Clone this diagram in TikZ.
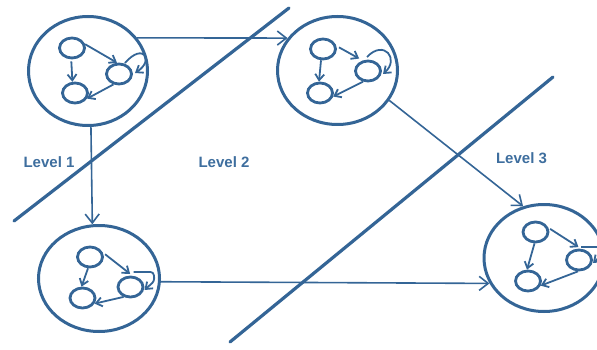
\documentclass[tikz,border=0pt]{standalone}
\usepackage{fontspec}
\setmainfont{Liberation Sans}
\usetikzlibrary{shapes.geometric,arrows.meta,calc}
\definecolor{ink}{RGB}{52,101,150}
\definecolor{labelink}{RGB}{62,110,158}
\begin{document}
\begin{tikzpicture}[x=1pt,y=-1pt,
  bigc/.style={ellipse,draw=ink,line width=3pt,minimum width=120pt,minimum height=108pt,inner sep=0pt},
  smallc/.style={ellipse,draw=ink,line width=2.8pt,minimum width=25pt,minimum height=20pt,inner sep=0pt},
  bigarrow/.style={draw=ink,line width=1.6pt,-{Straight Barb[length=9pt,width=14pt]}},
  smallarrow/.style={draw=ink,line width=1.8pt,-{Straight Barb[length=6pt,width=9pt]}},
  divider/.style={draw=ink,line width=3.2pt,line cap=round},
  level/.style={text=labelink,font=\fontsize{15}{18}\selectfont\bfseries}]
\useasboundingbox (0,0) rectangle (597,350);
\clip (0,0) rectangle (597,350);

% Level 1, upper cluster
\node[bigc,minimum width=119pt,minimum height=109pt] (g1) at (88,71) {};
\node[smallc] (g1a) at (72,48) {};
\node[smallc] (g1b) at (75,93) {};
\node[smallc] (g1c) at (119,74) {};
\draw[smallarrow] (g1a.16) -- (g1c.100);
\draw[smallarrow,shorten <=2pt] (g1a.-94) -- (g1b.103);
\draw[smallarrow] (g1c.-118) -- (g1b.-25);
\draw[smallarrow] ($(g1c)+(6,-11)$) .. controls ($(g1c)+(24,-32)$) and ($(g1c)+(36,-14)$) .. ($(g1c)+(16,-1)$);

% Level 2, upper cluster
\node[bigc] (g2) at (337.5,70.5) {};
\node[smallc] (g2a) at (323,49) {};
\node[smallc] (g2b) at (320,93) {};
\node[smallc] (g2c) at (368,71) {};
\draw[smallarrow,shorten <=3pt,shorten >=4pt] (g2a.13) -- (g2c.117);
\draw[smallarrow] (g2a.-100) -- (g2b.95);
\draw[smallarrow] (g2c.-115) -- (g2b.-15);
\draw[smallarrow] ($(g2c)+(-1,-14)$) .. controls ($(g2c)+(16,-32)$) and ($(g2c)+(32,-12)$) .. ($(g2c)+(15,3)$);

% Level 1/2, lower cluster
\node[bigc,minimum width=121pt,minimum height=106pt] (g3) at (99,278.5) {};
\node[smallc] (g3a) at (90,257) {};
\node[smallc] (g3b) at (82.5,298) {};
\node[smallc] (g3c) at (130.5,287) {};
\draw[smallarrow,shorten <=3pt,shorten >=3pt] (g3a.20) -- (g3c.80);
\draw[smallarrow] (g3a.-100) -- (g3b.95);
\draw[smallarrow] (g3c.-125) -- (g3b.-25);
\draw[smallarrow,rounded corners=3pt] ($(g3c)+(3,-15)$) -- ($(g3c)+(23,-15)$) -- ($(g3c)+(24,-6)$) -- ($(g3c)+(14,3)$);

% Level 3 cluster
\node[bigc,minimum height=107pt] (g4) at (544,258) {};
\node[smallc] (g4a) at (535.5,232) {};
\node[smallc] (g4b) at (528,281) {};
\node[smallc] (g4c) at (579,260) {};
\draw[smallarrow,shorten <=2pt,shorten >=3pt] (g4a.18) -- (g4c.80);
\draw[smallarrow] (g4a.-95) -- (g4b.95);
\draw[smallarrow] (g4c.-95) -- (g4b.-20);
\draw[smallarrow,rounded corners=3pt] ($(g4c)+(2,-13)$) -- ($(g4c)+(22,-13)$) -- ($(g4c)+(24,-6)$) -- ($(g4c)+(14,3)$);

% transitions between clusters
\draw[bigarrow] (g1.34) -- (g2.147);
\draw[bigarrow] (g1.-87) -- (g3.97);
\draw[bigarrow] (g3.-3) -- (g4.205);
\draw[bigarrow] (g2.-30) -- (g4.112);

% level boundaries
\coordinate (d1s) at (14,221);
\coordinate (d1e) at (289,8);
\coordinate (d2s) at (230,342);
\coordinate (d2e) at (553,77);
\draw[divider] (d1s) -- (d1e);
\draw[divider] (d2s) -- (d2e);

% level labels
\node[level] (lv1) at (49,162) {Level 1};
\node[level] (lv2) at (224,162) {Level 2};
\node[level] (lv3) at (521.5,158) {Level 3};
\end{tikzpicture}
\end{document}
